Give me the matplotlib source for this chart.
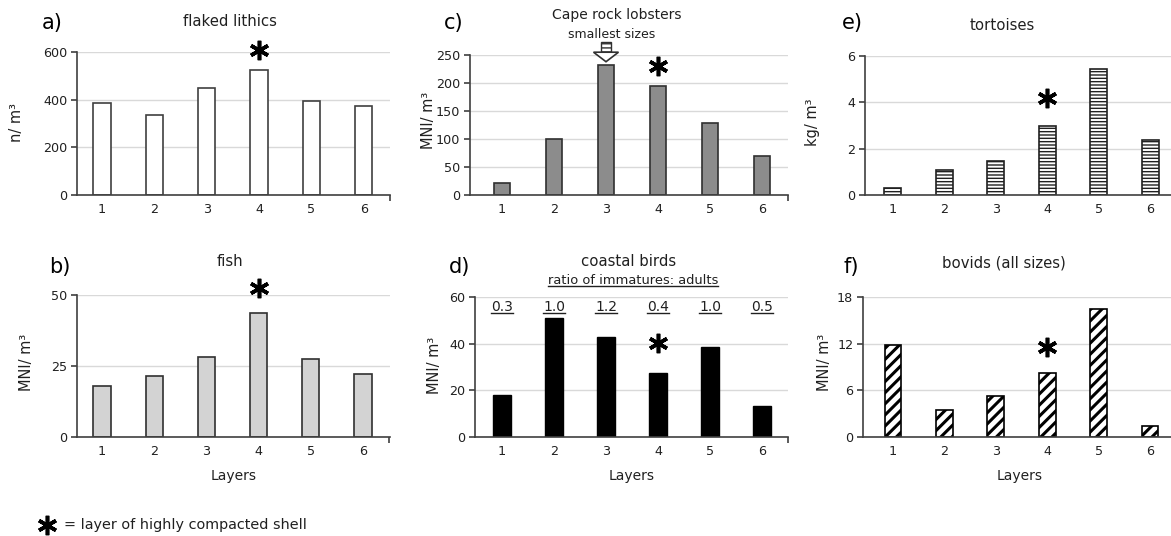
import matplotlib
matplotlib.use("Agg")
import matplotlib.pyplot as plt
from matplotlib.patches import Polygon, Rectangle
from matplotlib.lines import Line2D
from matplotlib.transforms import ScaledTranslation

layers = [1, 2, 3, 4, 5, 6]
lithics = [388, 335, 451, 523, 395, 372]
fish = [17.8, 21.5, 28.3, 43.8, 27.3, 22.1]
lobsters = [22, 100, 232, 194, 128, 70]
birds = [17.8, 50.8, 42.9, 27.6, 38.5, 13.4]
bird_ratio = ["0.3", "1.0", "1.2", "0.4", "1.0", "0.5"]
tortoises = [0.32, 1.09, 1.45, 2.99, 5.46, 2.39]
bovids = [11.8, 3.5, 5.3, 8.2, 16.4, 1.45]

W, H = 1171, 536
fig = plt.figure(figsize=(W / 100, H / 100), dpi=100)
plt.rcParams["font.family"] = "DejaVu Sans"

AXCOL = "#404040"
TXT = "#202020"


def px(x, y):
    return x / W, 1 - y / H


def make_ax(left, right, top, bottom, t1, t6):
    ax = fig.add_axes([left / W, 1 - bottom / H, (right - left) / W, (bottom - top) / H])
    sp = (t6 - t1) / 5
    ax.set_xlim(1 - (t1 - left) / sp, 6 + (right - t6) / sp)
    for s in ["top", "right"]:
        ax.spines[s].set_visible(False)
    for s in ["left", "bottom"]:
        ax.spines[s].set_color(AXCOL)
        ax.spines[s].set_linewidth(1.2)
    ax.set_xticks(layers)
    ax.set_xticks([6.5], minor=True)
    ax.tick_params(axis="x", which="major", length=0, pad=6, labelsize=9.2, colors=TXT)
    ax.tick_params(axis="x", which="minor", length=4, color=AXCOL, width=1.2)
    ax.tick_params(axis="y", length=4, color=AXCOL, width=1.2, labelsize=9.2, pad=3,
                   labelcolor=TXT)
    ax.yaxis.grid(True, color="#d9d9d9", lw=1)
    ax.set_axisbelow(True)
    return ax


def star(ax, x, y):
    ax.plot([x], [y], marker=(6, 2, 0), ms=14, mew=2.6, color="black", clip_on=False, zorder=5)


def header(letter, lx, ly, title, tx, ty, tsize=10.7):
    fig.text(*px(lx, ly), letter, fontsize=15, ha="left", va="center")
    fig.text(*px(tx, ty), title, fontsize=tsize, ha="center", va="center", color=TXT)


def ylab(text, x, y):
    fig.text(*px(x, y), text, fontsize=10.5, rotation=90, ha="center", va="center", color=TXT)


# a) flaked lithics
ax = make_ax(77, 390, 52, 195, 102, 364)
ax.bar(layers, lithics, width=0.33, color="white", edgecolor=AXCOL, lw=1.2)
ax.set_ylim(0, 600)
ax.set_yticks([0, 200, 400, 600])
star(ax, 4, 607)
header("a)", 42, 23, "flaked lithics", 230, 22)
ylab("n/ m³", 16, 122)

# c) Cape rock lobsters
ax = make_ax(470, 788, 55, 195, 502, 762)
ax.bar(layers, lobsters, width=0.31, color="#8c8c8c", edgecolor="#303030", lw=1.2)
ax.set_ylim(0, 250)
ax.set_yticks(range(0, 251, 50))
star(ax, 4, 230)
header("c)", 444, 23, "Cape rock lobsters", 617, 15, tsize=10)
fig.text(*px(612, 34), "smallest sizes", fontsize=9, ha="center", va="center", color=TXT)
ylab("MNI/ m³", 428, 120)
# arrow over layer 3
x3, yb = 3, lobsters[2]
ax.add_patch(Rectangle((x3 - 0.096, yb + 23), 0.192, 18, facecolor="white", edgecolor="#303030",
                       hatch="----", lw=1, clip_on=False, zorder=4))
ax.add_patch(Polygon([(x3 - 0.24, yb + 23), (x3 + 0.24, yb + 23), (x3, yb + 6)], closed=True,
                     facecolor="white", edgecolor="#303030", lw=1.2, clip_on=False, zorder=4))

# e) tortoises
ax = make_ax(865, 1176, 56, 195, 893, 1151)
with plt.rc_context({"hatch.linewidth": 1.0}):
    bars = ax.bar(layers, tortoises, width=0.33, color="white", edgecolor="#202020", lw=1.2,
                  hatch="-----")
    for b in bars:
        if hasattr(b, "set_hatch_linewidth"):
            b.set_hatch_linewidth(1.0)
ax.set_ylim(0, 6)
ax.set_yticks([0, 2, 4, 6])
star(ax, 4, 4.2)
header("e)", 842, 23, "tortoises", 1002, 25)
ylab("kg/ m³", 813, 122)

# b) fish
ax = make_ax(77, 390, 295, 437, 102, 363)
ax.bar(layers, fish, width=0.33, color="#d3d3d3", edgecolor="#303030", lw=1.2)
ax.set_ylim(0, 50)
ax.set_yticks([0, 25, 50])
star(ax, 4, 52.6)
header("b)", 49, 267, "fish", 230, 262)
ylab("MNI/ m³", 27, 362)
ax.set_xlabel("Layers", fontsize=10, labelpad=8, color=TXT)

# d) coastal birds
ax = make_ax(475, 788, 297, 437, 502, 762)
ax.bar(layers, birds, width=0.33, color="black", edgecolor="black", lw=1)
ax.set_ylim(0, 60)
ax.set_yticks([0, 20, 40, 60])
star(ax, 4, 40.3)
header("d)", 449, 267, "coastal birds", 629, 261)
ylab("MNI/ m³", 434, 365)
ax.set_xlabel("Layers", fontsize=10, labelpad=8, color=TXT)
underlined = [fig.text(*px(633, 280), "ratio of immatures: adults", fontsize=9.4,
                       ha="center", va="center", color=TXT)]
shift = ax.get_xaxis_transform() + ScaledTranslation(0, -10 / 100, fig.dpi_scale_trans)
for lay, r in zip(layers, bird_ratio):
    underlined.append(ax.text(lay, 1.0, r, fontsize=10, ha="center", va="center", color=TXT,
                              transform=shift))

# f) bovids
ax = make_ax(863, 1176, 297, 437, 893, 1150)
with plt.rc_context({"hatch.linewidth": 2.2}):
    bars = ax.bar(layers, bovids, width=0.33, color="white", edgecolor="black", lw=1.2,
                  hatch="///")
    for b in bars:
        if hasattr(b, "set_hatch_linewidth"):
            b.set_hatch_linewidth(2.2)
ax.set_ylim(0, 18)
ax.set_yticks([0, 6, 12, 18])
star(ax, 4, 11.6)
header("f)", 843, 267, "bovids (all sizes)", 1004, 263)
ylab("MNI/ m³", 824, 362)
ax.set_xlabel("Layers", fontsize=10, labelpad=8, color=TXT)

# legend note
fig.text(*px(64, 525), "= layer of highly compacted shell", fontsize=10.4, ha="left", va="center",
         color=TXT)
fig.add_artist(Line2D([px(47, 0)[0]], [px(0, 525)[1]], marker=(6, 2, 0), ms=14, mew=2.6,
                      color="black"))

# underline texts
fig.canvas.draw()
rend = fig.canvas.get_renderer()
inv = fig.transFigure.inverted()
for t in underlined:
    bb = t.get_window_extent(rend)
    (x0, y0), (x1, _) = inv.transform([(bb.x0, bb.y0 + 1), (bb.x1, bb.y0 + 1)])
    fig.add_artist(Line2D([x0, x1], [y0, y0], color=TXT, lw=1))

fig.savefig("out.png", dpi=100)
